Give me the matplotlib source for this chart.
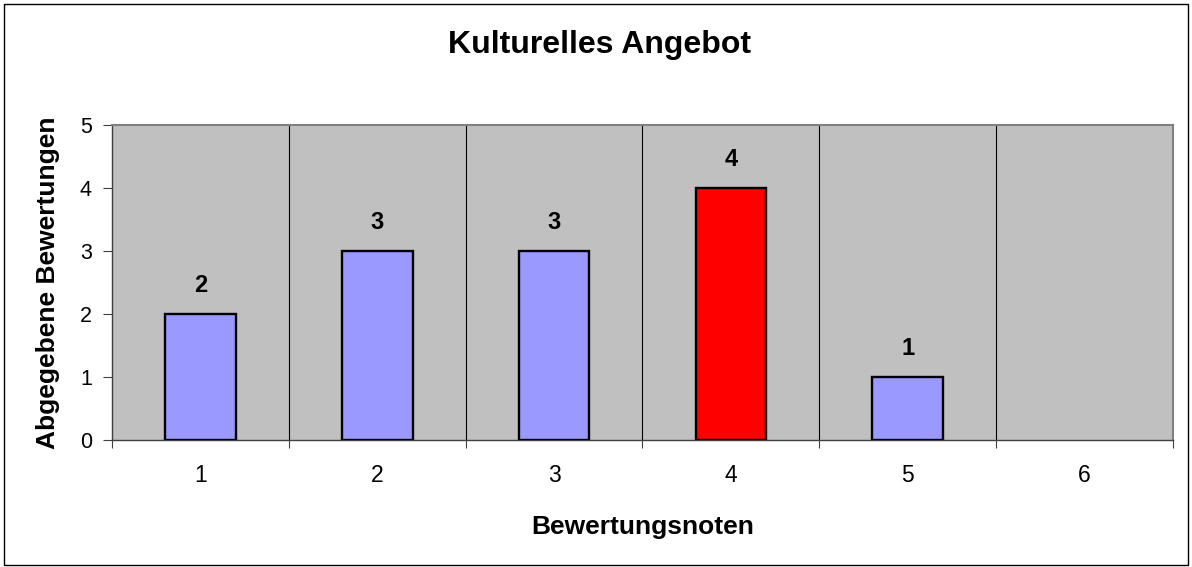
import matplotlib.pyplot as plt
from matplotlib.patches import Rectangle

plt.rcParams['font.family'] = ['Liberation Sans', 'DejaVu Sans']

noten = [1, 2, 3, 4, 5, 6]
anzahl = [2, 3, 3, 4, 1, 0]
farben = ['#9999FF', '#9999FF', '#9999FF', '#FF0000', '#9999FF', '#9999FF']
yticks = [0, 1, 2, 3, 4, 5]

fig = plt.figure(figsize=(11.92, 5.67), dpi=100)
ax = fig.add_axes([0.094, 0.224, 0.890, 0.5556])
ax.set_facecolor('#C0C0C0')

# no outline for empty categories
kanten = [1.7 if v > 0 else 0 for v in anzahl]
ax.bar(noten, anzahl, width=0.4, color=farben, edgecolor='black', linewidth=kanten, zorder=3)
for x, v in zip(noten, anzahl):
    if v > 0:
        ax.text(x, v + 0.45, str(v), ha='center', va='center', fontsize=17, fontweight='bold')

ax.set_xlim(0.5, 6.5)
ax.set_ylim(0, 5)

# category boundaries: gridlines + tick marks, labels at centres
ax.set_xticks([n + 0.5 for n in [0] + noten])
ax.set_xticklabels([])
ax.set_xticks(noten, minor=True)
ax.set_xticklabels([str(n) for n in noten], minor=True, fontsize=16.5)
ax.tick_params(axis='x', which='major', length=6, direction='out', color='#404040')
ax.tick_params(axis='x', which='minor', length=0, pad=17)
ax.set_yticks(yticks)
ax.set_yticklabels([str(t) for t in yticks], fontsize=15.5)
ax.tick_params(axis='y', length=6.5, direction='out', color='#404040', pad=8)
for b in noten[:-1]:
    ax.axvline(b + 0.5, color='black', linewidth=0.8, zorder=1)

for s in ['top', 'right']:
    ax.spines[s].set_color('#808080')
    ax.spines[s].set_linewidth(1.5)
for s in ['left', 'bottom']:
    ax.spines[s].set_color('#404040')
    ax.spines[s].set_linewidth(1)

fig.text(0.539, 1 - 534 / 567, 'Bewertungsnoten', ha='center', va='baseline',
         fontsize=19, fontweight='bold')
fig.text(0.0403, 0.502, 'Abgegebene Bewertungen', ha='center', va='center',
         rotation=90, fontsize=19, fontweight='bold')
fig.text(0.503, 1 - 53 / 567, 'Kulturelles Angebot', ha='center', va='baseline',
         fontsize=23, fontweight='bold')

fig.patches.append(Rectangle((0.003, 0.003), 0.994, 0.990, transform=fig.transFigure,
                             fill=False, edgecolor='black', linewidth=1))

fig.savefig('out.png', dpi=100)
